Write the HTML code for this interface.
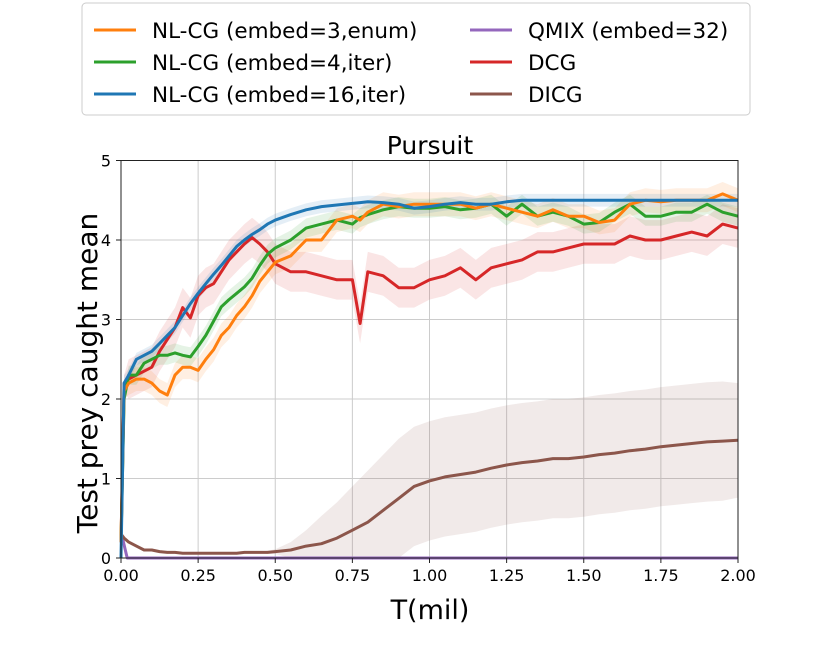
<!DOCTYPE html>
<html><head><meta charset="utf-8"><style>
body{margin:0;background:#fff;}
svg{font-family:"DejaVu Sans","Liberation Sans",sans-serif;}
</style></head><body>
<svg id="chart" width="830" height="642" xmlns="http://www.w3.org/2000/svg">
<g id="grid"></g>
<g id="bands"></g>
<g id="lines"></g>
<rect x="121" y="160.5" width="617" height="397.5" fill="none" stroke="#222" stroke-width="1"/>
<g id="ticks"></g>
<text x="430" y="154" font-size="25" text-anchor="middle">Pursuit</text>
<text x="430" y="619" font-size="27" text-anchor="middle">T(mil)</text>
<text transform="translate(97,373) rotate(-90)" font-size="28" text-anchor="middle">Test prey caught mean</text>
<g>
<rect x="82" y="3" width="668" height="112" rx="4" fill="#fff" stroke="#ccc"/>
<g><line x1="94" x2="136" y1="30" y2="30" stroke="#ff7f0e" stroke-width="3"/><text x="152" y="38" font-size="21.5">NL-CG (embed=3,enum)</text></g>
<g><line x1="94" x2="136" y1="62" y2="62" stroke="#2ca02c" stroke-width="3"/><text x="152" y="70" font-size="21.5">NL-CG (embed=4,iter)</text></g>
<g><line x1="94" x2="136" y1="94" y2="94" stroke="#1f77b4" stroke-width="3"/><text x="152" y="102" font-size="21.5">NL-CG (embed=16,iter)</text></g>
<g><line x1="470" x2="512" y1="30" y2="30" stroke="#9467bd" stroke-width="3"/><text x="528" y="38" font-size="21.5">QMIX (embed=32)</text></g>
<g><line x1="470" x2="512" y1="62" y2="62" stroke="#d62728" stroke-width="3"/><text x="528" y="70" font-size="21.5">DCG</text></g>
<g><line x1="470" x2="512" y1="94" y2="94" stroke="#8c564b" stroke-width="3"/><text x="528" y="102" font-size="21.5">DICG</text></g>
</g>
</svg>
<script>
const X=[0,0.01,0.025,0.05,0.075,0.1,0.125,0.15,0.175,0.2,0.225,0.25,0.275,0.3,0.325,0.35,0.375,0.4,0.425,0.45,0.475,0.5,
0.55,0.6,0.65,0.7,0.75,0.775,0.8,0.85,0.9,0.95,1.0,1.05,1.1,1.15,1.2,1.25,1.3,1.35,1.4,1.45,1.5,1.55,1.6,1.65,1.7,1.75,1.8,1.85,1.9,1.95,2.0];
const blue=[0,2.2,2.3,2.5,2.55,2.6,2.7,2.8,2.9,3.05,3.2,3.33,3.45,3.57,3.68,3.8,3.92,4.0,4.07,4.13,4.2,4.25,
4.32,4.38,4.42,4.44,4.46,4.47,4.48,4.47,4.45,4.4,4.42,4.45,4.47,4.45,4.45,4.48,4.5,4.5,4.5,4.5,4.5,4.5,4.5,4.5,4.5,4.5,4.5,4.5,4.5,4.5,4.5];
const orange=[0.2,2.1,2.2,2.25,2.25,2.2,2.1,2.05,2.3,2.4,2.4,2.36,2.5,2.62,2.8,2.9,3.05,3.16,3.3,3.48,3.6,3.72,
3.8,4.0,4.0,4.25,4.3,4.25,4.35,4.45,4.42,4.45,4.45,4.45,4.45,4.4,4.45,4.4,4.35,4.3,4.38,4.3,4.3,4.22,4.25,4.45,4.5,4.48,4.5,4.5,4.5,4.58,4.5];
const green=[0.2,2.0,2.3,2.3,2.45,2.5,2.55,2.55,2.58,2.55,2.53,2.66,2.8,2.98,3.16,3.25,3.33,3.41,3.52,3.68,3.82,3.9,
4.0,4.15,4.2,4.25,4.2,4.28,4.32,4.38,4.42,4.4,4.4,4.42,4.38,4.4,4.45,4.3,4.45,4.3,4.35,4.3,4.2,4.22,4.35,4.45,4.3,4.3,4.35,4.35,4.45,4.35,4.3];
const red=[0.2,2.2,2.25,2.3,2.35,2.4,2.6,2.75,2.9,3.15,3.02,3.3,3.4,3.45,3.6,3.75,3.85,3.95,4.03,3.95,3.85,3.7,
3.6,3.6,3.55,3.5,3.5,2.95,3.6,3.55,3.4,3.4,3.5,3.55,3.65,3.5,3.65,3.7,3.75,3.85,3.85,3.9,3.95,3.95,3.95,4.05,4.0,4.0,4.05,4.1,4.05,4.2,4.15];
const brown=[0.3,0.25,0.2,0.15,0.1,0.1,0.08,0.07,0.07,0.06,0.06,0.06,0.06,0.06,0.06,0.06,0.06,0.07,0.07,0.07,0.07,0.08,
0.1,0.15,0.18,0.25,0.35,0.4,0.45,0.6,0.75,0.9,0.97,1.02,1.05,1.08,1.13,1.17,1.2,1.22,1.25,1.25,1.27,1.3,1.32,1.35,1.37,1.4,1.42,1.44,1.46,1.47,1.48];
const brownStd=[0,0,0,0,0,0,0,0,0,0,0,0,0,0,0,0,0,0,0,0.01,0.02,0.03,
0.1,0.2,0.35,0.45,0.55,0.6,0.65,0.7,0.75,0.75,0.75,0.75,0.75,0.75,0.75,0.75,0.75,0.75,0.75,0.75,0.75,0.75,0.75,0.75,0.75,0.75,0.75,0.75,0.75,0.75,0.72];
const qmixX=[0,0.005,0.02,2.0];
const qmix=[0.3,0.25,0,0];
const xTicks=[0,0.25,0.5,0.75,1.0,1.25,1.5,1.75,2.0];
const xTickLabels=["0.00","0.25","0.50","0.75","1.00","1.25","1.50","1.75","2.00"];
const yTicks=[0,1,2,3,4,5];
const sx=v=>121+v*308.5, sy=v=>558-v*79.5;
const NS="http://www.w3.org/2000/svg";
function mk(tag,attrs,parent){const e=document.createElementNS(NS,tag);for(const k in attrs)e.setAttribute(k,attrs[k]);parent.appendChild(e);return e;}
const grid=document.getElementById('grid'),ticks=document.getElementById('ticks');
xTicks.forEach((t,i)=>{
 const l=mk('line',{x1:sx(t),x2:sx(t),y1:160.5,y2:558,stroke:'#ccc','stroke-width':1},grid);
 
 
 mk('line',{x1:sx(t),x2:sx(t),y1:558,y2:563,stroke:'#222'},ticks);
 const tx=mk('text',{x:sx(t),y:581,'font-size':16,'text-anchor':'middle'},ticks);tx.textContent=xTickLabels[i];
 
 
});
yTicks.forEach(t=>{
 const l=mk('line',{x1:121,x2:738,y1:sy(t),y2:sy(t),stroke:'#ccc','stroke-width':1},grid);
 
 
 mk('line',{x1:116,x2:121,y1:sy(t),y2:sy(t),stroke:'#222'},ticks);
 const tx=mk('text',{x:111,y:sy(t)+6,'font-size':16,'text-anchor':'end'},ticks);tx.textContent=String(t);
 
 
});
function pts(xs,ys){return xs.map((x,i)=>sx(x).toFixed(1)+','+sy(ys[i]).toFixed(1)).join(' ');}
function band(xs,ys,sd,color,name){
 const up=xs.map((x,i)=>sx(x).toFixed(1)+','+sy(ys[i]+(Array.isArray(sd)?sd[i]:(i<2?0.1:sd))).toFixed(1));
 const lo=xs.map((x,i)=>sx(x).toFixed(1)+','+sy(Math.max(0,ys[i]-(Array.isArray(sd)?sd[i]:(i<2?0.1:sd)))).toFixed(1)).reverse();
 const p=mk('polygon',{points:up.concat(lo).join(' '),fill:color,opacity:0.12},document.getElementById('bands'));
 
 
}
band(X,brown,brownStd,'#8c564b','band-dicg');
band(X,red,0.25,'#d62728','band-dcg');
band(X,orange,0.15,'#ff7f0e','band-nlcg-3');
band(X,green,0.12,'#2ca02c','band-nlcg-4');
band(X,blue,0.08,'#1f77b4','band-nlcg-16');
function line(xs,ys,color,name){
 const p=mk('polyline',{points:pts(xs,ys),fill:'none',stroke:color,'stroke-width':3,'stroke-linejoin':'round'},document.getElementById('lines'));
 
 
}
line(qmixX,qmix,'#9467bd','line-qmix');
line(X,brown,'#8c564b','line-dicg');
line(X,red,'#d62728','line-dcg');
line(X,green,'#2ca02c','line-nlcg-4');
line(X,orange,'#ff7f0e','line-nlcg-3');
line(X,blue,'#1f77b4','line-nlcg-16');
</script>
</body></html>
